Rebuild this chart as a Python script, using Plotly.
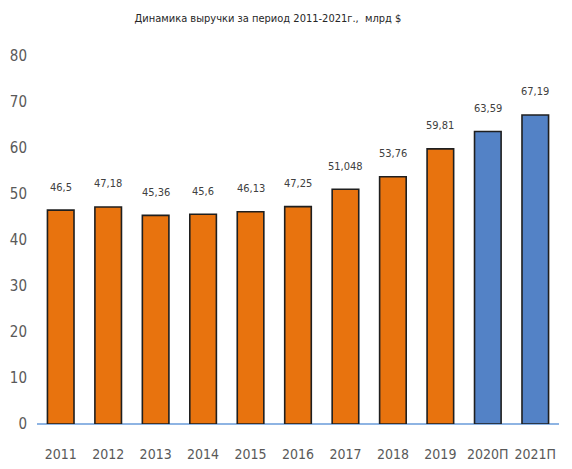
import plotly.graph_objects as go

years = ["2011", "2012", "2013", "2014", "2015", "2016", "2017", "2018", "2019", "2020П", "2021П"]
revenue = [46.5, 47.18, 45.36, 45.6, 46.13, 47.25, 51.048, 53.76, 59.81, 63.59, 67.19]
labels = ["46,5", "47,18", "45,36", "45,6", "46,13", "47,25", "51,048", "53,76", "59,81", "63,59", "67,19"]
forecast = [False] * 9 + [True] * 2

ORANGE = "#E8730E"
BLUE = "#5382C6"
FONT = "DejaVu Sans Condensed, DejaVu Sans, sans-serif"

colors = [BLUE if f else ORANGE for f in forecast]

fig = go.Figure(go.Bar(
    x=years,
    y=revenue,
    marker=dict(color=colors, line=dict(color="#1f1f1f", width=1.6)),
    width=0.56,
    hoverinfo="x+y",
))

# value labels sit well above the bars, as in the original
# (x given as category index so "2011" isn't read as a number)
for i, (v, lab) in enumerate(zip(revenue, labels)):
    fig.add_annotation(x=i, y=v, text=lab, showarrow=False,
                       yanchor="middle", yshift=23,
                       font=dict(family=FONT, size=11, color="#404040"))

# page body adds 8px margin, so the figure is drawn 8px smaller
fig.update_layout(
    width=564, height=461,
    margin=dict(l=29, r=13, t=48, b=45),
    paper_bgcolor="white", plot_bgcolor="white",
    showlegend=False,
    title=dict(text="Динамика выручки за период 2011-2021г.,  млрд $",
               x=0.461, xanchor="center", y=0.978, yanchor="middle",
               font=dict(family=FONT, size=11, color="#262626")),
)
fig.update_xaxes(type="category", range=[-0.5, 10.5], automargin=False,
                 showgrid=False, showline=False, zeroline=False,
                 ticks="", ticklabelstandoff=20,
                 tickfont=dict(family=FONT, size=14, weight="normal", color="#595959"))
fig.update_yaxes(range=[0, 80], dtick=10, automargin=False,
                 showgrid=False, showline=False,
                 zeroline=True, zerolinecolor="#8EB4E3", zerolinewidth=1.5,
                 ticks="", ticklabelstandoff=9,
                 tickfont=dict(family=FONT, size=15, weight="normal", color="#595959"))

fig.write_html("out.html")
